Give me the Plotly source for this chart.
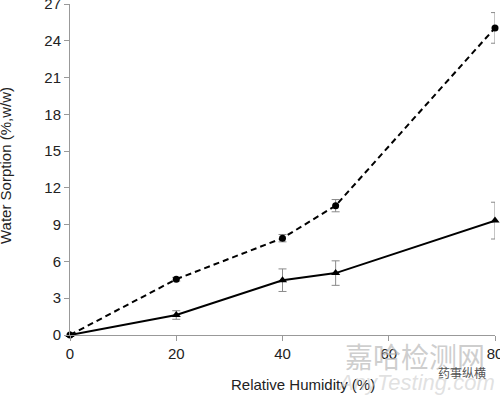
import plotly.graph_objects as go

rh = [0, 20, 40, 50, 80]
sorp_dashed = [0, 4.55, 7.9, 10.55, 25.05]
err_dashed = [0, 0.15, 0.3, 0.5, 1.25]
sorp_solid = [0, 1.63, 4.47, 5.05, 9.33]
err_solid = [0, 0.35, 0.92, 1.0, 1.5]

x_ticks = [0, 20, 40, 60, 80]
y_ticks = [0, 3, 6, 9, 12, 15, 18, 21, 24, 27]

FONT = "Liberation Sans, Arial, sans-serif"
fig = go.Figure()
fig.add_trace(go.Scatter(
    x=rh, y=sorp_dashed, mode="lines+markers",
    line=dict(color="black", width=2, dash="6px,4px"),
    marker=dict(symbol="circle", size=7, color="black"),
    error_y=dict(type="data", array=err_dashed, visible=True, color="#8a8a8a", thickness=1, width=4),
    cliponaxis=False, showlegend=False))
fig.add_trace(go.Scatter(
    x=rh, y=sorp_solid, mode="lines+markers",
    line=dict(color="black", width=2),
    marker=dict(symbol="triangle-up", size=8, color="black"),
    error_y=dict(type="data", array=err_solid, visible=True, color="#8a8a8a", thickness=1, width=4),
    cliponaxis=False, showlegend=False))

PW, PH = 425, 331
fig.update_layout(
    width=500, height=398,
    margin=dict(l=70, r=5, t=4, b=63, autoexpand=False),
    plot_bgcolor="white", paper_bgcolor="white",
    font=dict(family=FONT, size=15, color="#222"),
    xaxis=dict(range=[0, 80], tickvals=x_ticks, showline=True, linecolor="#999", linewidth=1,
               ticks="outside", ticklen=5, tickcolor="#999", showgrid=False, zeroline=False,
               automargin=False, ticklabeloverflow="allow", tickfont=dict(size=15, color="#222")),
    yaxis=dict(range=[0, 27], tickvals=y_ticks, showline=True, linecolor="#999", linewidth=1,
               ticks="outside", ticklen=5, tickcolor="#999", showgrid=False, zeroline=False,
               automargin=False, ticklabeloverflow="allow", tickfont=dict(size=15, color="#222")),
    annotations=[
        dict(text="Relative Humidity (%)", xref="paper", yref="paper", x=(303-70)/PW, y=-(384-335)/PH,
             xanchor="center", yanchor="middle", showarrow=False, font=dict(size=15, color="#222")),
        dict(text="Water Sorption (%,w/w)", xref="paper", yref="paper", x=-(70-5)/PW, y=(335-166)/PH,
             xanchor="center", yanchor="middle", textangle=-90, showarrow=False, font=dict(size=15, color="#222")),
        dict(text="嘉哈检测网", xref="paper", yref="paper", x=(415-70)/PW, y=-(356-335)/PH,
             xanchor="center", yanchor="middle", showarrow=False,
             font=dict(size=28, color="rgba(185,185,185,0.7)", family="Noto Sans CJK SC")),
        dict(text="<i>AnyTesting.com</i>", xref="paper", yref="paper", x=(416-70)/PW, y=-(382-335)/PH,
             xanchor="center", yanchor="middle", showarrow=False,
             font=dict(size=22, color="rgba(200,200,200,0.55)")),
        dict(text="药事纵横", xref="paper", yref="paper", x=(462-70)/PW, y=-(372-335)/PH,
             xanchor="center", yanchor="middle", showarrow=False,
             font=dict(size=12, color="#555", family="Noto Sans CJK SC")),
    ],
)
fig.write_html("out.html", config={"displayModeBar": False},
               post_script="document.body.style.margin='0px';")
